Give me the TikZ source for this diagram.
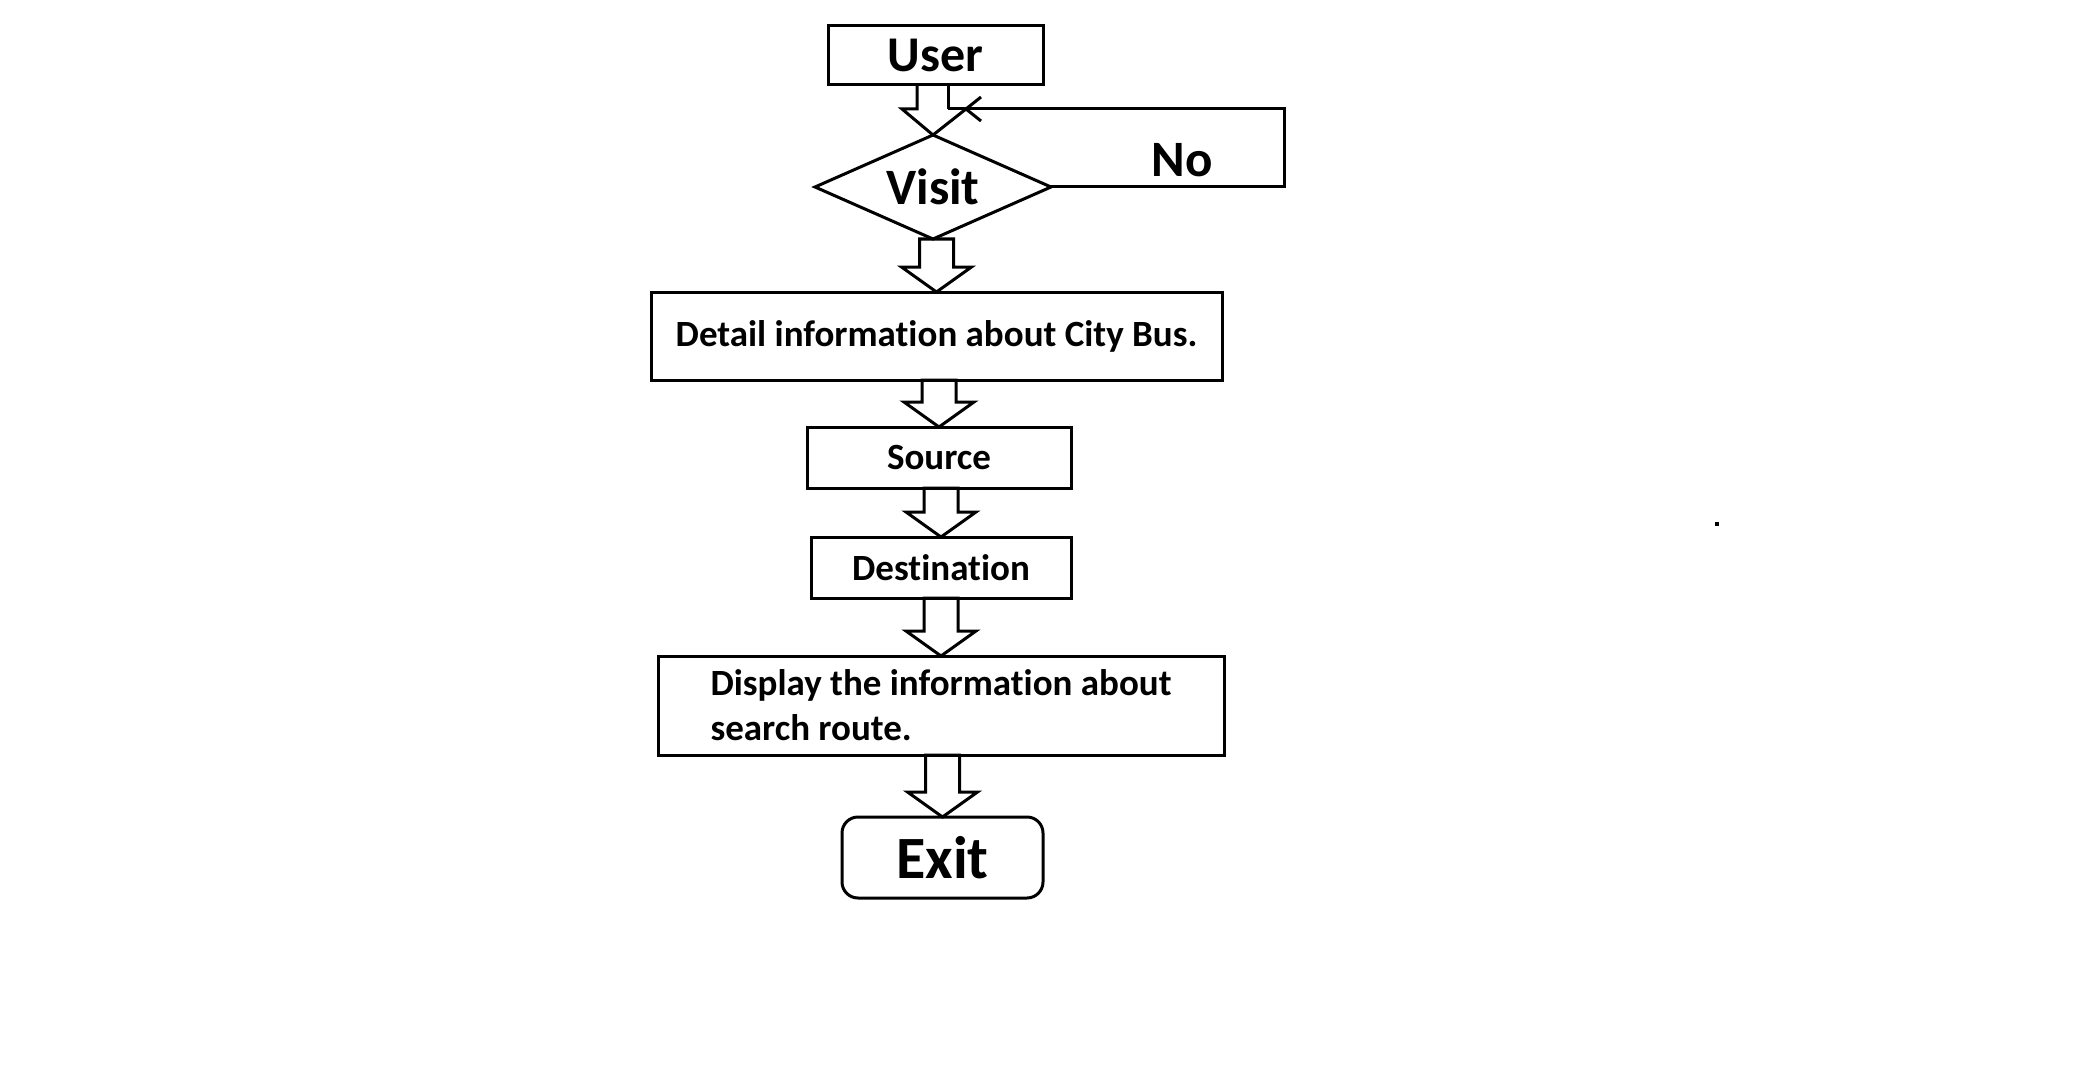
\documentclass[tikz,border=0pt]{standalone}
\usepackage{fontspec}
\setmainfont{Carlito}[Ligatures=NoCommon]
\usetikzlibrary{calc,shapes.geometric}
\newcommand\blockarrow[2]{%
  \draw[blk] let \p1=(#1.south), \p2=(#2.north) in
    (\x2-17pt,\y1) -- (\x2-17pt,\y2+25pt) -- (\x2-35pt,\y2+25pt) -- (\x2,\y2)
    -- (\x2+35pt,\y2+25pt) -- (\x2+17pt,\y2+25pt) -- (\x2+17pt,\y1) -- cycle;}
\begin{document}
\begin{tikzpicture}[x=1pt,y=-1pt,
  box/.style={draw, rectangle, line width=3pt, inner sep=0pt, outer sep=0pt},
  blk/.style={draw, line width=3pt, line join=miter},
  conn/.style={draw, line width=3pt},
  fbig/.style={font=\bfseries\fontsize{50}{58}\selectfont},
  fmid/.style={font=\bfseries\fontsize{37}{45}\selectfont},
  ]
\fill[white] (0,0) rectangle (2096,1086);
\useasboundingbox (0,0) rectangle (2096,1086);

\node[box, fbig, minimum width=215pt, minimum height=59pt] (user) at (935.5,55.5) {User};
\node[draw, diamond, line width=3pt, inner sep=0pt, outer sep=0pt, shape aspect=2.27,
      minimum width=236pt, minimum height=104pt, font=\bfseries\fontsize{51}{58}\selectfont] (visit) at (933,187) {Visit};
\node[box, fmid, minimum width=571pt, minimum height=88pt] (detail) at (936.5,336) {Detail information about City Bus.};
\node[box, fmid, minimum width=264pt, minimum height=61pt] (source) at (939,457.5) {Source};
\node[box, fmid, minimum width=260pt, minimum height=61pt] (dest) at (941,567.5) {Destination};
\node[box, fmid, minimum width=566pt, minimum height=99pt, align=left] (display) at (941,705.5) {Display the information about\\search route.};
\node[box, rounded corners=16pt, minimum width=201pt, minimum height=81pt, font=\bfseries\fontsize{60}{68}\selectfont] (exit) at (942.5,857.5) {Exit};
\node[font=\bfseries\fontsize{51}{58}\selectfont] (no) at (1182,160) {No};

% User -> Visit block arrow
\draw[blk] (917,85) -- (917,109) -- (902,109) -- (visit.north) -- (966,109);
\draw[blk] (948,85) -- (948,109);

% No loop back
\coordinate (loopA) at (1284,187);
\coordinate (loopB) at (1284,109);
\coordinate (loopEnd) at (948,109);
\coordinate (loopTip) at (966,109);
\draw[conn] (visit.east) -- (loopA) -- (loopB) -- (loopEnd);
\draw[conn] (loopTip) -- (981,97);
\draw[conn] (loopTip) -- (981,121);

\blockarrow{visit}{detail}
\blockarrow{detail}{source}
\blockarrow{source}{dest}
\blockarrow{dest}{display}
\blockarrow{display}{exit}

\fill (1715,522) rectangle (1719,526);
\end{tikzpicture}
\end{document}
